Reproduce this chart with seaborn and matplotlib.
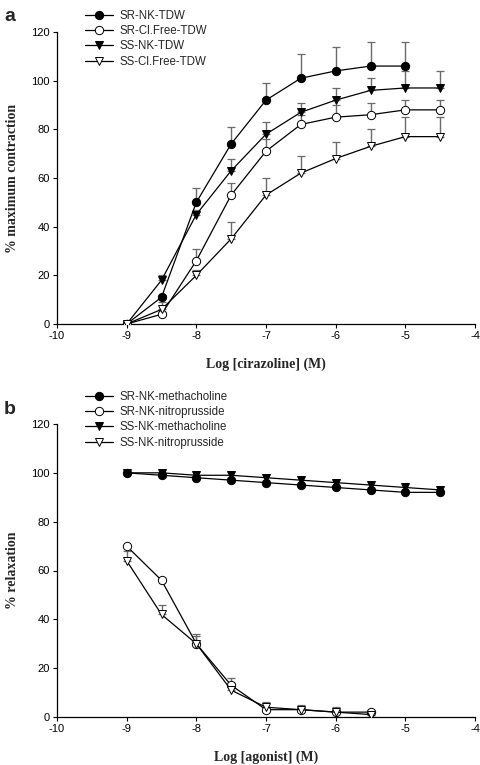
import matplotlib
matplotlib.use("Agg")
import matplotlib.pyplot as plt
import seaborn as sns
import numpy as np
import pandas as pd

# ---- Panel a data ----
xa = [-9, -8.5, -8, -7.5, -7, -6.5, -6, -5.5, -5, -4.5]
sr_nk_tdw = [0, 11, 50, 74, 92, 101, 104, 106, 106]
sr_nk_tdw_err = [0, 1, 6, 7, 7, 10, 10, 10, 10]
sr_cl_tdw = [0, 4, 26, 53, 71, 82, 85, 86, 88, 88]
sr_cl_tdw_err = [0, 1, 5, 5, 5, 4, 5, 5, 4, 4]
ss_nk_tdw = [0, 18, 45, 63, 78, 87, 92, 96, 97, 97]
ss_nk_tdw_err = [0, 2, 2, 5, 5, 4, 5, 5, 7, 7]
ss_cl_tdw = [0, 6, 20, 35, 53, 62, 68, 73, 77, 77]
ss_cl_tdw_err = [0, 3, 2, 7, 7, 7, 7, 7, 8, 8]
labels_a = ["SR-NK-TDW", "SR-Cl.Free-TDW", "SS-NK-TDW", "SS-Cl.Free-TDW"]

# ---- Panel b data ----
xb = [-9, -8.5, -8, -7.5, -7, -6.5, -6, -5.5, -5, -4.5]
sr_meth = [100, 99, 98, 97, 96, 95, 94, 93, 92, 92]
sr_nitro = [70, 56, 30, 13, 3, 3, 2, 2]
sr_nitro_err = [0, 0, 4, 3, 1, 1, 1, 1]
ss_meth = [100, 100, 99, 99, 98, 97, 96, 95, 94, 93]
ss_nitro = [64, 42, 30, 11, 4, 3, 2, 1]
ss_nitro_err = [4, 4, 3, 3, 2, 2, 2, 1]
labels_b = ["SR-NK-methacholine", "SR-NK-nitroprusside", "SS-NK-methacholine", "SS-NK-nitroprusside"]

xticks = [-10, -9, -8, -7, -6, -5, -4]
yticks = [0, 20, 40, 60, 80, 100, 120]

sns.set_theme(style="ticks")
plt.rcParams['font.family'] = ['Liberation Sans', 'DejaVu Sans']

fig = plt.figure(figsize=(4.81, 7.65), dpi=100)
W, H = 481, 765
def axrect(l, t, r, b):
    return [l / W, 1 - b / H, (r - l) / W, (b - t) / H]

ax_a = fig.add_axes(axrect(57, 32, 475, 324))
ax_b = fig.add_axes(axrect(57, 424, 475, 717))

styles = [
    dict(marker='o', mfc='black', ms=6),
    dict(marker='o', mfc='white', ms=6),
    dict(marker='v', mfc='black', ms=5.5),
    dict(marker='v', mfc='white', ms=5.5),
]

def draw(ax, x, series, errs, labels):
    handles = []
    for y, e, lab, st in zip(series, errs, labels, styles):
        xs = x[:len(y)]
        if e is not None:
            ax.errorbar(xs, y, yerr=[np.zeros(len(e)), e], fmt='none',
                        ecolor='#6a6a6a', elinewidth=1.0, capsize=3, capthick=0.9, zorder=1)
        df = pd.DataFrame({'x': xs, 'y': y})
        sns.lineplot(data=df, x='x', y='y', ax=ax, color='black', linewidth=0.9,
                     marker=st['marker'], markersize=st['ms'],
                     markerfacecolor=st['mfc'], markeredgecolor='black', markeredgewidth=0.7,
                     zorder=3, legend=False)
        handles.append(ax.lines[-1])
    return handles

ha = draw(ax_a, xa, [sr_nk_tdw, sr_cl_tdw, ss_nk_tdw, ss_cl_tdw],
          [sr_nk_tdw_err, sr_cl_tdw_err, ss_nk_tdw_err, ss_cl_tdw_err], labels_a)
hb = draw(ax_b, xb, [sr_meth, sr_nitro, ss_meth, ss_nitro],
          [None, sr_nitro_err, None, ss_nitro_err], labels_b)

for ax, xl, yl in [(ax_a, 'Log [cirazoline] (M)', '% maximum contraction'),
                   (ax_b, 'Log [agonist] (M)', '% relaxation')]:
    ax.set_xlim(-10, -4)
    ax.set_ylim(0, 120)
    ax.set_xticks(xticks)
    ax.set_yticks(yticks)
    ax.set_xticklabels([str(t) for t in xticks])
    ax.set_yticklabels([str(t) for t in yticks])
    ax.tick_params(direction='out', length=3, width=0.8, labelsize=8, colors='black', pad=2)
    for s in ['top', 'right']:
        ax.spines[s].set_visible(False)
    for s in ['left', 'bottom']:
        ax.spines[s].set_linewidth(0.9)
        ax.spines[s].set_color('black')
    ax.set_xlabel(xl, family='Liberation Serif', fontweight='bold', fontsize=10, labelpad=12)
    ax.set_ylabel(yl, family='Liberation Serif', fontweight='bold', fontsize=10, labelpad=9)
    ax.set_facecolor('white')

leg_kw = dict(frameon=False, loc='upper left', fontsize=8.3, handlelength=2.4,
              handletextpad=0.6, labelspacing=0.28, borderaxespad=0, borderpad=0)
fig.legend(ha, labels_a, bbox_to_anchor=(85 / W, 1 - 10 / H), **leg_kw)
fig.legend(hb, labels_b, bbox_to_anchor=(85 / W, 1 - 391 / H), **leg_kw)

fig.text(4 / W, 1 - 21 / H, 'a', fontsize=14, fontweight='bold', ha='left', va='baseline')
fig.text(4 / W, 1 - 414 / H, 'b', fontsize=14, fontweight='bold', ha='left', va='baseline')

fig.savefig('out.png', dpi=100, facecolor='white')
